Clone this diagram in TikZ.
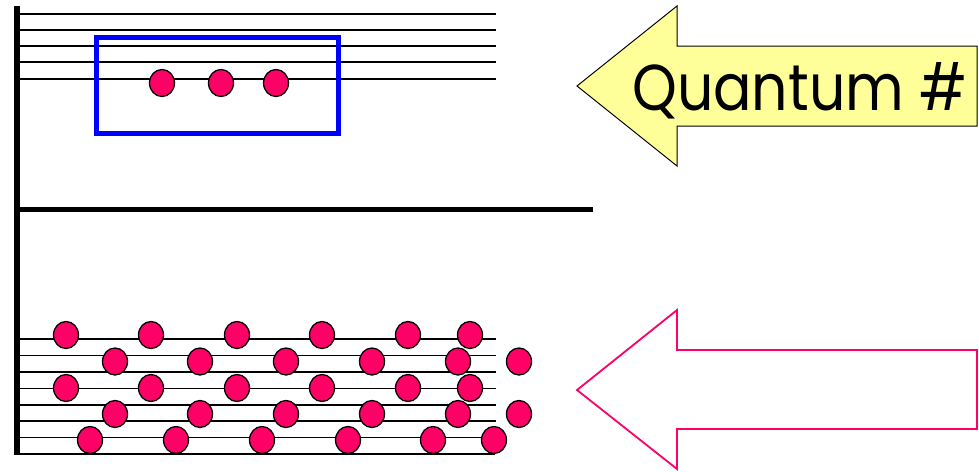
\documentclass[tikz,border=0pt]{standalone}
\usepackage{fontspec}
\usepackage{graphicx}
\usetikzlibrary{shapes.geometric}
\newfontfamily\qfont{Poppins}
\definecolor{dotpink}{HTML}{FF0066}
\definecolor{arrowyellow}{HTML}{FFFF99}
\definecolor{boxblue}{HTML}{0000FF}
\tikzset{
  staffline/.style={draw=black, line width=1.7pt},
  dotnode/.style={ellipse, draw=black, line width=1.3pt, fill=dotpink,
    minimum width=25pt, minimum height=27pt, inner sep=0pt},
  heavyline/.style={draw=black, line width=5.5pt},
  qbox/.style={draw=boxblue, line width=5pt},
  yellowarrow/.style={draw=black, fill=arrowyellow, line width=1pt, line join=miter},
  pinkarrow/.style={draw=dotpink, line width=1.8pt, line join=miter},
}
\begin{document}
\begin{tikzpicture}[x=1pt, y=-1pt]
\useasboundingbox (0,0) rectangle (979,471);
% top staff
\foreach \yy in {14,30,46,62,79} \draw[staffline] (19,\yy) -- (496,\yy);
% bottom staff
\foreach \yy in {339,355.5,372,388.5,405,421,437.5} \draw[staffline] (19,\yy) -- (496,\yy);
\draw[staffline, line width=2.2pt] (17,454) -- (495,454);
% axes
\draw[heavyline] (17,6) -- (17,455);
\draw[heavyline, line width=4.8pt] (17,209.5) -- (593,209.5);
% blue box
\draw[qbox] (96,37) rectangle (338,133.5);
% top dots
\node[dotnode] (t1) at (162,83) {};
\node[dotnode] (t2) at (221,83) {};
\node[dotnode] (t3) at (276,83) {};
% bottom dots
\foreach \xx [count=\i] in {66,151,237,322,408,470} {
  \node[dotnode] (a\i) at (\xx,335) {};
  \node[dotnode] (c\i) at (\xx,388) {};
}
\foreach \xx [count=\i] in {115,200,286,372,458,519} {
  \node[dotnode] (b\i) at (\xx,361.5) {};
  \node[dotnode] (d\i) at (\xx,414) {};
}
\foreach \xx [count=\i] in {90,176,262,348,433,494} {
  \node[dotnode] (e\i) at (\xx,440) {};
}
% yellow arrow
\draw[yellowarrow] (577,86) -- (677,6) -- (677,46) -- (977,46) -- (977,126) -- (677,126) -- (677,166) -- cycle;
\node[anchor=base west, inner sep=0pt] (qlabel) at (632,110)
  {\resizebox{335pt}{48pt}{\qfont Quantum \#}};
% pink arrow
\draw[pinkarrow] (577,390) -- (677,310) -- (677,350) -- (977,350) -- (977,429) -- (677,429) -- (677,469) -- cycle;
\end{tikzpicture}
\end{document}
